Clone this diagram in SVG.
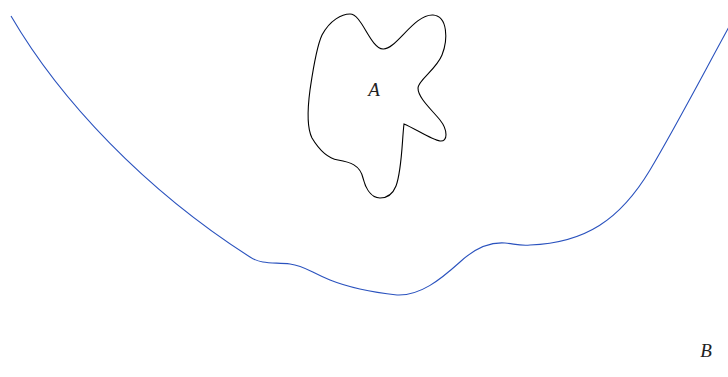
<svg xmlns="http://www.w3.org/2000/svg" width="728" height="377" viewBox="0 0 728 377">
<style>
.lbl{font-family:"Liberation Serif","DejaVu Serif",serif;font-style:italic;font-size:19px;fill:#222}
.blob{fill:none;stroke:#000;stroke-width:1.1}
.curve{fill:none;stroke:#2a52be;stroke-width:1.1}
</style>
<rect width="728" height="377" fill="#fff"/>
<g id="A">
<path class="blob" d="M 350,14 C 362,14 370,48 383,49 C 396,50 414,14 433,15 C 448,16 448,40 442,55 C 436,70 418,80 418,88 C 418,98 432,110 440,120 C 448,130 448,142 440,141 C 432,140 414,128 404,124 C 402,140 402,170 396,186 C 392,196 386,198 380,198 C 370,198 365,186 363,178 C 360,165 350,162 338,160 C 326,158 318,148 312,138 C 306,126 308,105 310,90 C 313,70 316,48 322,35 C 330,20 342,14 350,14 Z"/>
<text class="lbl" x="374" y="96" text-anchor="middle">A</text>
</g>
<g id="B">
<path class="curve" d="M 11,16 C 60,100 145,190 250,257 C 262,265 275,262 290,264 C 305,266 310,272 330,280 C 350,288 370,292 397,295 C 420,296 440,280 460,262 C 475,248 490,242 505,243 C 515,244 520,246 530,245 C 585,243 620,220 650,170 C 675,128 700,80 730,25"/>
<text class="lbl" x="706" y="357" text-anchor="middle">B</text>
</g>
</svg>
